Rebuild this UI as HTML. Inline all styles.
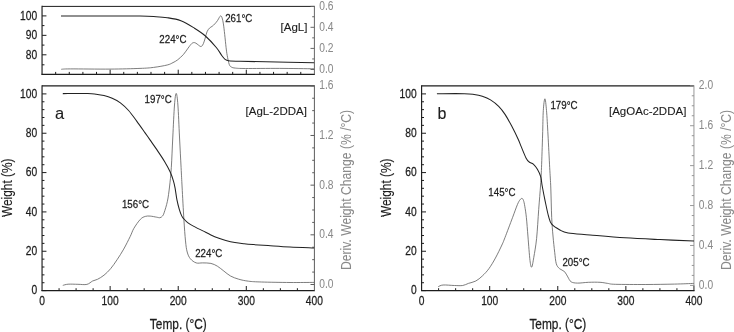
<!DOCTYPE html>
<html><head><meta charset="utf-8"><style>
html,body{margin:0;padding:0;background:#fff;}
svg{display:block;filter:grayscale(1);font-family:"Liberation Sans",sans-serif;}
</style></head><body>
<svg width="734" height="332" viewBox="0 0 734 332">
<rect width="734" height="332" fill="#fff"/>
<line x1="42.05" y1="6.40" x2="314.40" y2="6.40" stroke="#1c1c1c" stroke-width="1.00"/>
<line x1="41.47" y1="74.30" x2="314.90" y2="74.30" stroke="#1c1c1c" stroke-width="1.15"/>
<line x1="42.05" y1="5.70" x2="42.05" y2="74.80" stroke="#1c1c1c" stroke-width="1.15"/>
<line x1="314.40" y1="5.90" x2="314.40" y2="74.30" stroke="#666" stroke-width="1.00"/>
<line x1="55.67" y1="74.30" x2="55.67" y2="71.90" stroke="#1c1c1c" stroke-width="1.00"/>
<line x1="69.28" y1="74.30" x2="69.28" y2="71.90" stroke="#1c1c1c" stroke-width="1.00"/>
<line x1="82.90" y1="74.30" x2="82.90" y2="71.90" stroke="#1c1c1c" stroke-width="1.00"/>
<line x1="96.52" y1="74.30" x2="96.52" y2="71.90" stroke="#1c1c1c" stroke-width="1.00"/>
<line x1="110.14" y1="74.30" x2="110.14" y2="69.70" stroke="#1c1c1c" stroke-width="1.00"/>
<line x1="123.75" y1="74.30" x2="123.75" y2="71.90" stroke="#1c1c1c" stroke-width="1.00"/>
<line x1="137.37" y1="74.30" x2="137.37" y2="71.90" stroke="#1c1c1c" stroke-width="1.00"/>
<line x1="150.99" y1="74.30" x2="150.99" y2="71.90" stroke="#1c1c1c" stroke-width="1.00"/>
<line x1="164.61" y1="74.30" x2="164.61" y2="71.90" stroke="#1c1c1c" stroke-width="1.00"/>
<line x1="178.22" y1="74.30" x2="178.22" y2="69.70" stroke="#1c1c1c" stroke-width="1.00"/>
<line x1="191.84" y1="74.30" x2="191.84" y2="71.90" stroke="#1c1c1c" stroke-width="1.00"/>
<line x1="205.46" y1="74.30" x2="205.46" y2="71.90" stroke="#1c1c1c" stroke-width="1.00"/>
<line x1="219.08" y1="74.30" x2="219.08" y2="71.90" stroke="#1c1c1c" stroke-width="1.00"/>
<line x1="232.69" y1="74.30" x2="232.69" y2="71.90" stroke="#1c1c1c" stroke-width="1.00"/>
<line x1="246.31" y1="74.30" x2="246.31" y2="69.70" stroke="#1c1c1c" stroke-width="1.00"/>
<line x1="259.93" y1="74.30" x2="259.93" y2="71.90" stroke="#1c1c1c" stroke-width="1.00"/>
<line x1="273.55" y1="74.30" x2="273.55" y2="71.90" stroke="#1c1c1c" stroke-width="1.00"/>
<line x1="287.16" y1="74.30" x2="287.16" y2="71.90" stroke="#1c1c1c" stroke-width="1.00"/>
<line x1="300.78" y1="74.30" x2="300.78" y2="71.90" stroke="#1c1c1c" stroke-width="1.00"/>
<line x1="42.05" y1="15.90" x2="46.45" y2="15.90" stroke="#1c1c1c" stroke-width="1.00"/>
<text transform="translate(37.15 20.00) scale(0.820 1)" font-size="12.50" text-anchor="end" fill="#1c1c1c" stroke="#1c1c1c" stroke-width="0.25">100</text>
<line x1="42.05" y1="35.35" x2="46.45" y2="35.35" stroke="#1c1c1c" stroke-width="1.00"/>
<text transform="translate(37.15 39.45) scale(0.820 1)" font-size="12.50" text-anchor="end" fill="#1c1c1c" stroke="#1c1c1c" stroke-width="0.25">90</text>
<line x1="42.05" y1="54.80" x2="46.45" y2="54.80" stroke="#1c1c1c" stroke-width="1.00"/>
<text transform="translate(37.15 58.90) scale(0.820 1)" font-size="12.50" text-anchor="end" fill="#1c1c1c" stroke="#1c1c1c" stroke-width="0.25">80</text>
<line x1="42.05" y1="25.60" x2="44.45" y2="25.60" stroke="#1c1c1c" stroke-width="1.00"/>
<line x1="42.05" y1="45.10" x2="44.45" y2="45.10" stroke="#1c1c1c" stroke-width="1.00"/>
<line x1="42.05" y1="64.80" x2="44.45" y2="64.80" stroke="#1c1c1c" stroke-width="1.00"/>
<line x1="314.40" y1="6.40" x2="310.50" y2="6.40" stroke="#666" stroke-width="1.00"/>
<text transform="translate(319.30 9.90) scale(0.800 1)" font-size="12.80" text-anchor="start" fill="#8a8a8a" stroke="#8a8a8a" stroke-width="0.04">0.6</text>
<line x1="314.40" y1="27.30" x2="310.50" y2="27.30" stroke="#666" stroke-width="1.00"/>
<text transform="translate(319.30 30.80) scale(0.800 1)" font-size="12.80" text-anchor="start" fill="#8a8a8a" stroke="#8a8a8a" stroke-width="0.04">0.4</text>
<line x1="314.40" y1="48.40" x2="310.50" y2="48.40" stroke="#666" stroke-width="1.00"/>
<text transform="translate(319.30 51.90) scale(0.800 1)" font-size="12.80" text-anchor="start" fill="#8a8a8a" stroke="#8a8a8a" stroke-width="0.04">0.2</text>
<line x1="314.40" y1="69.50" x2="310.50" y2="69.50" stroke="#666" stroke-width="1.00"/>
<text transform="translate(319.30 73.00) scale(0.800 1)" font-size="12.80" text-anchor="start" fill="#8a8a8a" stroke="#8a8a8a" stroke-width="0.04">0.0</text>
<line x1="314.40" y1="16.75" x2="312.20" y2="16.75" stroke="#666" stroke-width="1.00"/>
<line x1="314.40" y1="37.85" x2="312.20" y2="37.85" stroke="#666" stroke-width="1.00"/>
<line x1="314.40" y1="58.95" x2="312.20" y2="58.95" stroke="#666" stroke-width="1.00"/>
<path d="M61.20 69.30C62.73 69.23 62.27 68.93 70.40 68.90C78.53 68.87 98.40 69.18 110.00 69.10C121.60 69.02 132.73 68.68 140.00 68.40C147.27 68.12 149.07 67.97 153.60 67.40C158.13 66.83 163.97 65.80 167.20 65.00C170.43 64.20 171.25 63.47 173.00 62.60C174.75 61.73 175.95 61.17 177.70 59.80C179.45 58.43 181.77 56.35 183.50 54.40C185.23 52.45 186.73 49.90 188.10 48.10C189.47 46.30 190.65 44.52 191.70 43.60C192.75 42.68 193.50 42.53 194.40 42.60C195.30 42.67 196.20 43.42 197.10 44.00C198.00 44.58 199.05 45.72 199.80 46.10C200.55 46.48 201.00 46.72 201.60 46.30C202.20 45.88 202.80 44.97 203.40 43.60C204.00 42.23 204.60 40.07 205.20 38.10C205.80 36.13 206.28 33.47 207.00 31.80C207.72 30.13 208.63 29.02 209.50 28.10C210.37 27.18 211.32 27.00 212.20 26.30C213.08 25.60 213.92 24.85 214.80 23.90C215.68 22.95 216.73 21.70 217.50 20.60C218.27 19.50 218.85 18.10 219.40 17.30C219.95 16.50 220.35 15.70 220.80 15.80C221.25 15.90 221.67 16.55 222.10 17.90C222.53 19.25 222.97 21.13 223.40 23.90C223.83 26.67 224.25 30.53 224.70 34.50C225.15 38.47 225.68 44.22 226.10 47.70C226.52 51.18 226.68 52.63 227.20 55.40C227.72 58.17 228.52 62.37 229.20 64.30C229.88 66.23 230.27 66.37 231.30 67.00C232.33 67.63 233.05 67.85 235.40 68.10C237.75 68.35 238.05 68.45 245.40 68.50C252.75 68.55 268.07 68.35 279.50 68.40C290.93 68.45 308.25 68.73 314.00 68.80" fill="none" stroke="#5c5c5c" stroke-width="0.80" stroke-linejoin="round" stroke-linecap="butt"/>
<path d="M61.00 16.00C67.50 16.00 89.33 16.00 100.00 16.00C110.67 16.00 118.33 15.98 125.00 16.00C131.67 16.02 135.23 16.00 140.00 16.10C144.77 16.20 149.07 16.33 153.60 16.60C158.13 16.87 162.65 17.02 167.20 17.70C171.75 18.38 176.35 18.95 180.90 20.70C185.45 22.45 190.42 25.65 194.50 28.20C198.58 30.75 201.77 32.78 205.40 36.00C209.03 39.22 213.58 44.27 216.30 47.50C219.02 50.73 220.23 53.43 221.70 55.40C223.17 57.37 223.95 58.42 225.10 59.30C226.25 60.18 226.12 60.37 228.60 60.70C231.08 61.03 233.78 61.12 240.00 61.30C246.22 61.48 253.53 61.55 265.90 61.80C278.27 62.05 306.15 62.63 314.20 62.80" fill="none" stroke="#222" stroke-width="1.05" stroke-linejoin="round" stroke-linecap="butt"/>
<text transform="translate(159.30 42.90) scale(0.840 1)" font-size="11.60" text-anchor="start" fill="#1c1c1c" stroke="#1c1c1c" stroke-width="0.25">224°C</text>
<text transform="translate(225.20 21.50) scale(0.840 1)" font-size="11.60" text-anchor="start" fill="#1c1c1c" stroke="#1c1c1c" stroke-width="0.25">261°C</text>
<text transform="translate(280.60 30.60)" font-size="11.50" text-anchor="start" fill="#1c1c1c" stroke="#1c1c1c" stroke-width="0.10">[AgL]</text>
<line x1="42.05" y1="85.80" x2="314.40" y2="85.80" stroke="#1c1c1c" stroke-width="1.30"/>
<line x1="41.47" y1="290.60" x2="314.90" y2="290.60" stroke="#1c1c1c" stroke-width="1.15"/>
<line x1="42.05" y1="85.30" x2="42.05" y2="291.10" stroke="#1c1c1c" stroke-width="1.15"/>
<line x1="314.40" y1="85.30" x2="314.40" y2="290.60" stroke="#5c5c5c" stroke-width="1.00"/>
<line x1="59.07" y1="290.60" x2="59.07" y2="288.20" stroke="#1c1c1c" stroke-width="1.00"/>
<line x1="76.09" y1="290.60" x2="76.09" y2="288.20" stroke="#1c1c1c" stroke-width="1.00"/>
<line x1="93.12" y1="290.60" x2="93.12" y2="288.20" stroke="#1c1c1c" stroke-width="1.00"/>
<line x1="110.14" y1="290.60" x2="110.14" y2="286.00" stroke="#1c1c1c" stroke-width="1.00"/>
<line x1="127.16" y1="290.60" x2="127.16" y2="288.20" stroke="#1c1c1c" stroke-width="1.00"/>
<line x1="144.18" y1="290.60" x2="144.18" y2="288.20" stroke="#1c1c1c" stroke-width="1.00"/>
<line x1="161.20" y1="290.60" x2="161.20" y2="288.20" stroke="#1c1c1c" stroke-width="1.00"/>
<line x1="178.22" y1="290.60" x2="178.22" y2="286.00" stroke="#1c1c1c" stroke-width="1.00"/>
<line x1="195.25" y1="290.60" x2="195.25" y2="288.20" stroke="#1c1c1c" stroke-width="1.00"/>
<line x1="212.27" y1="290.60" x2="212.27" y2="288.20" stroke="#1c1c1c" stroke-width="1.00"/>
<line x1="229.29" y1="290.60" x2="229.29" y2="288.20" stroke="#1c1c1c" stroke-width="1.00"/>
<line x1="246.31" y1="290.60" x2="246.31" y2="286.00" stroke="#1c1c1c" stroke-width="1.00"/>
<line x1="263.33" y1="290.60" x2="263.33" y2="288.20" stroke="#1c1c1c" stroke-width="1.00"/>
<line x1="280.36" y1="290.60" x2="280.36" y2="288.20" stroke="#1c1c1c" stroke-width="1.00"/>
<line x1="297.38" y1="290.60" x2="297.38" y2="288.20" stroke="#1c1c1c" stroke-width="1.00"/>
<text transform="translate(42.05 304.90) scale(0.820 1)" font-size="12.50" text-anchor="middle" fill="#1c1c1c" stroke="#1c1c1c" stroke-width="0.25">0</text>
<text transform="translate(110.14 304.90) scale(0.820 1)" font-size="12.50" text-anchor="middle" fill="#1c1c1c" stroke="#1c1c1c" stroke-width="0.25">100</text>
<text transform="translate(178.22 304.90) scale(0.820 1)" font-size="12.50" text-anchor="middle" fill="#1c1c1c" stroke="#1c1c1c" stroke-width="0.25">200</text>
<text transform="translate(246.31 304.90) scale(0.820 1)" font-size="12.50" text-anchor="middle" fill="#1c1c1c" stroke="#1c1c1c" stroke-width="0.25">300</text>
<text transform="translate(314.40 304.90) scale(0.820 1)" font-size="12.50" text-anchor="middle" fill="#1c1c1c" stroke="#1c1c1c" stroke-width="0.25">400</text>
<line x1="42.05" y1="93.90" x2="46.45" y2="93.90" stroke="#1c1c1c" stroke-width="1.00"/>
<text transform="translate(37.15 97.50) scale(0.820 1)" font-size="12.50" text-anchor="end" fill="#1c1c1c" stroke="#1c1c1c" stroke-width="0.25">100</text>
<line x1="42.05" y1="133.24" x2="46.45" y2="133.24" stroke="#1c1c1c" stroke-width="1.00"/>
<text transform="translate(37.15 136.84) scale(0.820 1)" font-size="12.50" text-anchor="end" fill="#1c1c1c" stroke="#1c1c1c" stroke-width="0.25">80</text>
<line x1="42.05" y1="172.58" x2="46.45" y2="172.58" stroke="#1c1c1c" stroke-width="1.00"/>
<text transform="translate(37.15 176.18) scale(0.820 1)" font-size="12.50" text-anchor="end" fill="#1c1c1c" stroke="#1c1c1c" stroke-width="0.25">60</text>
<line x1="42.05" y1="211.92" x2="46.45" y2="211.92" stroke="#1c1c1c" stroke-width="1.00"/>
<text transform="translate(37.15 215.52) scale(0.820 1)" font-size="12.50" text-anchor="end" fill="#1c1c1c" stroke="#1c1c1c" stroke-width="0.25">40</text>
<line x1="42.05" y1="251.26" x2="46.45" y2="251.26" stroke="#1c1c1c" stroke-width="1.00"/>
<text transform="translate(37.15 254.86) scale(0.820 1)" font-size="12.50" text-anchor="end" fill="#1c1c1c" stroke="#1c1c1c" stroke-width="0.25">20</text>
<line x1="42.05" y1="290.60" x2="46.45" y2="290.60" stroke="#1c1c1c" stroke-width="1.00"/>
<text transform="translate(37.15 294.20) scale(0.820 1)" font-size="12.50" text-anchor="end" fill="#1c1c1c" stroke="#1c1c1c" stroke-width="0.25">0</text>
<line x1="42.05" y1="282.73" x2="44.45" y2="282.73" stroke="#1c1c1c" stroke-width="1.00"/>
<line x1="42.05" y1="274.86" x2="44.45" y2="274.86" stroke="#1c1c1c" stroke-width="1.00"/>
<line x1="42.05" y1="267.00" x2="44.45" y2="267.00" stroke="#1c1c1c" stroke-width="1.00"/>
<line x1="42.05" y1="259.13" x2="44.45" y2="259.13" stroke="#1c1c1c" stroke-width="1.00"/>
<line x1="42.05" y1="243.39" x2="44.45" y2="243.39" stroke="#1c1c1c" stroke-width="1.00"/>
<line x1="42.05" y1="235.52" x2="44.45" y2="235.52" stroke="#1c1c1c" stroke-width="1.00"/>
<line x1="42.05" y1="227.66" x2="44.45" y2="227.66" stroke="#1c1c1c" stroke-width="1.00"/>
<line x1="42.05" y1="219.79" x2="44.45" y2="219.79" stroke="#1c1c1c" stroke-width="1.00"/>
<line x1="42.05" y1="204.05" x2="44.45" y2="204.05" stroke="#1c1c1c" stroke-width="1.00"/>
<line x1="42.05" y1="196.18" x2="44.45" y2="196.18" stroke="#1c1c1c" stroke-width="1.00"/>
<line x1="42.05" y1="188.32" x2="44.45" y2="188.32" stroke="#1c1c1c" stroke-width="1.00"/>
<line x1="42.05" y1="180.45" x2="44.45" y2="180.45" stroke="#1c1c1c" stroke-width="1.00"/>
<line x1="42.05" y1="164.71" x2="44.45" y2="164.71" stroke="#1c1c1c" stroke-width="1.00"/>
<line x1="42.05" y1="156.84" x2="44.45" y2="156.84" stroke="#1c1c1c" stroke-width="1.00"/>
<line x1="42.05" y1="148.98" x2="44.45" y2="148.98" stroke="#1c1c1c" stroke-width="1.00"/>
<line x1="42.05" y1="141.11" x2="44.45" y2="141.11" stroke="#1c1c1c" stroke-width="1.00"/>
<line x1="42.05" y1="125.37" x2="44.45" y2="125.37" stroke="#1c1c1c" stroke-width="1.00"/>
<line x1="42.05" y1="117.50" x2="44.45" y2="117.50" stroke="#1c1c1c" stroke-width="1.00"/>
<line x1="42.05" y1="109.64" x2="44.45" y2="109.64" stroke="#1c1c1c" stroke-width="1.00"/>
<line x1="42.05" y1="101.77" x2="44.45" y2="101.77" stroke="#1c1c1c" stroke-width="1.00"/>
<line x1="314.40" y1="85.80" x2="310.50" y2="85.80" stroke="#5c5c5c" stroke-width="1.00"/>
<text transform="translate(319.30 89.30) scale(0.800 1)" font-size="12.80" text-anchor="start" fill="#8a8a8a" stroke="#8a8a8a" stroke-width="0.04">1.6</text>
<line x1="314.40" y1="135.47" x2="310.50" y2="135.47" stroke="#5c5c5c" stroke-width="1.00"/>
<text transform="translate(319.30 138.97) scale(0.800 1)" font-size="12.80" text-anchor="start" fill="#8a8a8a" stroke="#8a8a8a" stroke-width="0.04">1.2</text>
<line x1="314.40" y1="185.15" x2="310.50" y2="185.15" stroke="#5c5c5c" stroke-width="1.00"/>
<text transform="translate(319.30 188.65) scale(0.800 1)" font-size="12.80" text-anchor="start" fill="#8a8a8a" stroke="#8a8a8a" stroke-width="0.04">0.8</text>
<line x1="314.40" y1="234.82" x2="310.50" y2="234.82" stroke="#5c5c5c" stroke-width="1.00"/>
<text transform="translate(319.30 238.32) scale(0.800 1)" font-size="12.80" text-anchor="start" fill="#8a8a8a" stroke="#8a8a8a" stroke-width="0.04">0.4</text>
<line x1="314.40" y1="284.50" x2="310.50" y2="284.50" stroke="#5c5c5c" stroke-width="1.00"/>
<text transform="translate(319.30 288.00) scale(0.800 1)" font-size="12.80" text-anchor="start" fill="#8a8a8a" stroke="#8a8a8a" stroke-width="0.04">0.0</text>
<line x1="314.40" y1="98.22" x2="312.20" y2="98.22" stroke="#5c5c5c" stroke-width="1.00"/>
<line x1="314.40" y1="110.64" x2="312.20" y2="110.64" stroke="#5c5c5c" stroke-width="1.00"/>
<line x1="314.40" y1="123.06" x2="312.20" y2="123.06" stroke="#5c5c5c" stroke-width="1.00"/>
<line x1="314.40" y1="147.89" x2="312.20" y2="147.89" stroke="#5c5c5c" stroke-width="1.00"/>
<line x1="314.40" y1="160.31" x2="312.20" y2="160.31" stroke="#5c5c5c" stroke-width="1.00"/>
<line x1="314.40" y1="172.73" x2="312.20" y2="172.73" stroke="#5c5c5c" stroke-width="1.00"/>
<line x1="314.40" y1="197.57" x2="312.20" y2="197.57" stroke="#5c5c5c" stroke-width="1.00"/>
<line x1="314.40" y1="209.99" x2="312.20" y2="209.99" stroke="#5c5c5c" stroke-width="1.00"/>
<line x1="314.40" y1="222.41" x2="312.20" y2="222.41" stroke="#5c5c5c" stroke-width="1.00"/>
<line x1="314.40" y1="247.24" x2="312.20" y2="247.24" stroke="#5c5c5c" stroke-width="1.00"/>
<line x1="314.40" y1="259.66" x2="312.20" y2="259.66" stroke="#5c5c5c" stroke-width="1.00"/>
<line x1="314.40" y1="272.08" x2="312.20" y2="272.08" stroke="#5c5c5c" stroke-width="1.00"/>
<line x1="421.60" y1="85.80" x2="693.95" y2="85.80" stroke="#1c1c1c" stroke-width="1.30"/>
<line x1="421.03" y1="290.60" x2="694.45" y2="290.60" stroke="#1c1c1c" stroke-width="1.15"/>
<line x1="421.60" y1="85.30" x2="421.60" y2="291.10" stroke="#1c1c1c" stroke-width="1.15"/>
<line x1="693.95" y1="285.40" x2="693.95" y2="291.10" stroke="#1c1c1c" stroke-width="1.00"/>
<line x1="693.95" y1="85.30" x2="693.95" y2="285.40" stroke="#8c8c8c" stroke-width="0.90"/>
<line x1="438.62" y1="290.60" x2="438.62" y2="288.20" stroke="#1c1c1c" stroke-width="1.00"/>
<line x1="455.64" y1="290.60" x2="455.64" y2="288.20" stroke="#1c1c1c" stroke-width="1.00"/>
<line x1="472.67" y1="290.60" x2="472.67" y2="288.20" stroke="#1c1c1c" stroke-width="1.00"/>
<line x1="489.69" y1="290.60" x2="489.69" y2="286.00" stroke="#1c1c1c" stroke-width="1.00"/>
<line x1="506.71" y1="290.60" x2="506.71" y2="288.20" stroke="#1c1c1c" stroke-width="1.00"/>
<line x1="523.73" y1="290.60" x2="523.73" y2="288.20" stroke="#1c1c1c" stroke-width="1.00"/>
<line x1="540.75" y1="290.60" x2="540.75" y2="288.20" stroke="#1c1c1c" stroke-width="1.00"/>
<line x1="557.78" y1="290.60" x2="557.78" y2="286.00" stroke="#1c1c1c" stroke-width="1.00"/>
<line x1="574.80" y1="290.60" x2="574.80" y2="288.20" stroke="#1c1c1c" stroke-width="1.00"/>
<line x1="591.82" y1="290.60" x2="591.82" y2="288.20" stroke="#1c1c1c" stroke-width="1.00"/>
<line x1="608.84" y1="290.60" x2="608.84" y2="288.20" stroke="#1c1c1c" stroke-width="1.00"/>
<line x1="625.86" y1="290.60" x2="625.86" y2="286.00" stroke="#1c1c1c" stroke-width="1.00"/>
<line x1="642.88" y1="290.60" x2="642.88" y2="288.20" stroke="#1c1c1c" stroke-width="1.00"/>
<line x1="659.91" y1="290.60" x2="659.91" y2="288.20" stroke="#1c1c1c" stroke-width="1.00"/>
<line x1="676.93" y1="290.60" x2="676.93" y2="288.20" stroke="#1c1c1c" stroke-width="1.00"/>
<text transform="translate(421.60 304.90) scale(0.820 1)" font-size="12.50" text-anchor="middle" fill="#1c1c1c" stroke="#1c1c1c" stroke-width="0.25">0</text>
<text transform="translate(489.69 304.90) scale(0.820 1)" font-size="12.50" text-anchor="middle" fill="#1c1c1c" stroke="#1c1c1c" stroke-width="0.25">100</text>
<text transform="translate(557.78 304.90) scale(0.820 1)" font-size="12.50" text-anchor="middle" fill="#1c1c1c" stroke="#1c1c1c" stroke-width="0.25">200</text>
<text transform="translate(625.86 304.90) scale(0.820 1)" font-size="12.50" text-anchor="middle" fill="#1c1c1c" stroke="#1c1c1c" stroke-width="0.25">300</text>
<text transform="translate(693.95 304.90) scale(0.820 1)" font-size="12.50" text-anchor="middle" fill="#1c1c1c" stroke="#1c1c1c" stroke-width="0.25">400</text>
<line x1="421.60" y1="93.90" x2="426.00" y2="93.90" stroke="#1c1c1c" stroke-width="1.00"/>
<text transform="translate(416.70 97.50) scale(0.820 1)" font-size="12.50" text-anchor="end" fill="#1c1c1c" stroke="#1c1c1c" stroke-width="0.25">100</text>
<line x1="421.60" y1="133.24" x2="426.00" y2="133.24" stroke="#1c1c1c" stroke-width="1.00"/>
<text transform="translate(416.70 136.84) scale(0.820 1)" font-size="12.50" text-anchor="end" fill="#1c1c1c" stroke="#1c1c1c" stroke-width="0.25">80</text>
<line x1="421.60" y1="172.58" x2="426.00" y2="172.58" stroke="#1c1c1c" stroke-width="1.00"/>
<text transform="translate(416.70 176.18) scale(0.820 1)" font-size="12.50" text-anchor="end" fill="#1c1c1c" stroke="#1c1c1c" stroke-width="0.25">60</text>
<line x1="421.60" y1="211.92" x2="426.00" y2="211.92" stroke="#1c1c1c" stroke-width="1.00"/>
<text transform="translate(416.70 215.52) scale(0.820 1)" font-size="12.50" text-anchor="end" fill="#1c1c1c" stroke="#1c1c1c" stroke-width="0.25">40</text>
<line x1="421.60" y1="251.26" x2="426.00" y2="251.26" stroke="#1c1c1c" stroke-width="1.00"/>
<text transform="translate(416.70 254.86) scale(0.820 1)" font-size="12.50" text-anchor="end" fill="#1c1c1c" stroke="#1c1c1c" stroke-width="0.25">20</text>
<line x1="421.60" y1="290.60" x2="426.00" y2="290.60" stroke="#1c1c1c" stroke-width="1.00"/>
<text transform="translate(416.70 294.20) scale(0.820 1)" font-size="12.50" text-anchor="end" fill="#1c1c1c" stroke="#1c1c1c" stroke-width="0.25">0</text>
<line x1="421.60" y1="282.73" x2="424.00" y2="282.73" stroke="#1c1c1c" stroke-width="1.00"/>
<line x1="421.60" y1="274.86" x2="424.00" y2="274.86" stroke="#1c1c1c" stroke-width="1.00"/>
<line x1="421.60" y1="267.00" x2="424.00" y2="267.00" stroke="#1c1c1c" stroke-width="1.00"/>
<line x1="421.60" y1="259.13" x2="424.00" y2="259.13" stroke="#1c1c1c" stroke-width="1.00"/>
<line x1="421.60" y1="243.39" x2="424.00" y2="243.39" stroke="#1c1c1c" stroke-width="1.00"/>
<line x1="421.60" y1="235.52" x2="424.00" y2="235.52" stroke="#1c1c1c" stroke-width="1.00"/>
<line x1="421.60" y1="227.66" x2="424.00" y2="227.66" stroke="#1c1c1c" stroke-width="1.00"/>
<line x1="421.60" y1="219.79" x2="424.00" y2="219.79" stroke="#1c1c1c" stroke-width="1.00"/>
<line x1="421.60" y1="204.05" x2="424.00" y2="204.05" stroke="#1c1c1c" stroke-width="1.00"/>
<line x1="421.60" y1="196.18" x2="424.00" y2="196.18" stroke="#1c1c1c" stroke-width="1.00"/>
<line x1="421.60" y1="188.32" x2="424.00" y2="188.32" stroke="#1c1c1c" stroke-width="1.00"/>
<line x1="421.60" y1="180.45" x2="424.00" y2="180.45" stroke="#1c1c1c" stroke-width="1.00"/>
<line x1="421.60" y1="164.71" x2="424.00" y2="164.71" stroke="#1c1c1c" stroke-width="1.00"/>
<line x1="421.60" y1="156.84" x2="424.00" y2="156.84" stroke="#1c1c1c" stroke-width="1.00"/>
<line x1="421.60" y1="148.98" x2="424.00" y2="148.98" stroke="#1c1c1c" stroke-width="1.00"/>
<line x1="421.60" y1="141.11" x2="424.00" y2="141.11" stroke="#1c1c1c" stroke-width="1.00"/>
<line x1="421.60" y1="125.37" x2="424.00" y2="125.37" stroke="#1c1c1c" stroke-width="1.00"/>
<line x1="421.60" y1="117.50" x2="424.00" y2="117.50" stroke="#1c1c1c" stroke-width="1.00"/>
<line x1="421.60" y1="109.64" x2="424.00" y2="109.64" stroke="#1c1c1c" stroke-width="1.00"/>
<line x1="421.60" y1="101.77" x2="424.00" y2="101.77" stroke="#1c1c1c" stroke-width="1.00"/>
<line x1="693.95" y1="85.80" x2="690.05" y2="85.80" stroke="#8c8c8c" stroke-width="0.90"/>
<text transform="translate(698.85 89.30) scale(0.800 1)" font-size="12.80" text-anchor="start" fill="#8a8a8a" stroke="#8a8a8a" stroke-width="0.04">2.0</text>
<line x1="693.95" y1="125.72" x2="690.05" y2="125.72" stroke="#8c8c8c" stroke-width="0.90"/>
<text transform="translate(698.85 129.22) scale(0.800 1)" font-size="12.80" text-anchor="start" fill="#8a8a8a" stroke="#8a8a8a" stroke-width="0.04">1.6</text>
<line x1="693.95" y1="165.64" x2="690.05" y2="165.64" stroke="#8c8c8c" stroke-width="0.90"/>
<text transform="translate(698.85 169.14) scale(0.800 1)" font-size="12.80" text-anchor="start" fill="#8a8a8a" stroke="#8a8a8a" stroke-width="0.04">1.2</text>
<line x1="693.95" y1="205.56" x2="690.05" y2="205.56" stroke="#8c8c8c" stroke-width="0.90"/>
<text transform="translate(698.85 209.06) scale(0.800 1)" font-size="12.80" text-anchor="start" fill="#8a8a8a" stroke="#8a8a8a" stroke-width="0.04">0.8</text>
<line x1="693.95" y1="245.48" x2="690.05" y2="245.48" stroke="#8c8c8c" stroke-width="0.90"/>
<text transform="translate(698.85 248.98) scale(0.800 1)" font-size="12.80" text-anchor="start" fill="#8a8a8a" stroke="#8a8a8a" stroke-width="0.04">0.4</text>
<line x1="693.95" y1="285.40" x2="690.05" y2="285.40" stroke="#8c8c8c" stroke-width="0.90"/>
<text transform="translate(698.85 288.90) scale(0.800 1)" font-size="12.80" text-anchor="start" fill="#8a8a8a" stroke="#8a8a8a" stroke-width="0.04">0.0</text>
<line x1="693.95" y1="95.78" x2="691.75" y2="95.78" stroke="#8c8c8c" stroke-width="0.90"/>
<line x1="693.95" y1="105.76" x2="691.75" y2="105.76" stroke="#8c8c8c" stroke-width="0.90"/>
<line x1="693.95" y1="115.74" x2="691.75" y2="115.74" stroke="#8c8c8c" stroke-width="0.90"/>
<line x1="693.95" y1="135.70" x2="691.75" y2="135.70" stroke="#8c8c8c" stroke-width="0.90"/>
<line x1="693.95" y1="145.68" x2="691.75" y2="145.68" stroke="#8c8c8c" stroke-width="0.90"/>
<line x1="693.95" y1="155.66" x2="691.75" y2="155.66" stroke="#8c8c8c" stroke-width="0.90"/>
<line x1="693.95" y1="175.62" x2="691.75" y2="175.62" stroke="#8c8c8c" stroke-width="0.90"/>
<line x1="693.95" y1="185.60" x2="691.75" y2="185.60" stroke="#8c8c8c" stroke-width="0.90"/>
<line x1="693.95" y1="195.58" x2="691.75" y2="195.58" stroke="#8c8c8c" stroke-width="0.90"/>
<line x1="693.95" y1="215.54" x2="691.75" y2="215.54" stroke="#8c8c8c" stroke-width="0.90"/>
<line x1="693.95" y1="225.52" x2="691.75" y2="225.52" stroke="#8c8c8c" stroke-width="0.90"/>
<line x1="693.95" y1="235.50" x2="691.75" y2="235.50" stroke="#8c8c8c" stroke-width="0.90"/>
<line x1="693.95" y1="255.46" x2="691.75" y2="255.46" stroke="#8c8c8c" stroke-width="0.90"/>
<line x1="693.95" y1="265.44" x2="691.75" y2="265.44" stroke="#8c8c8c" stroke-width="0.90"/>
<line x1="693.95" y1="275.42" x2="691.75" y2="275.42" stroke="#8c8c8c" stroke-width="0.90"/>
<path d="M62.80 285.40C63.68 285.20 65.58 284.38 68.10 284.20C70.62 284.02 74.77 284.27 77.90 284.30C81.03 284.33 84.45 284.95 86.90 284.40C89.35 283.85 90.83 281.85 92.60 281.00C94.37 280.15 95.60 280.27 97.50 279.30C99.40 278.33 101.82 276.97 104.00 275.20C106.18 273.43 108.42 271.28 110.60 268.70C112.78 266.12 114.92 262.97 117.10 259.70C119.28 256.43 121.52 252.97 123.70 249.10C125.88 245.23 128.50 239.97 130.20 236.50C131.90 233.03 132.20 231.17 133.90 228.30C135.60 225.43 138.50 221.28 140.40 219.30C142.30 217.32 143.67 216.93 145.30 216.40C146.93 215.87 148.30 215.97 150.20 216.10C152.10 216.23 155.07 216.93 156.70 217.20C158.33 217.47 159.03 217.90 160.00 217.70C160.97 217.50 161.82 216.82 162.50 216.00C163.18 215.18 163.28 215.25 164.10 212.80C164.92 210.35 166.50 205.60 167.40 201.30C168.30 197.00 168.85 192.60 169.50 187.00C170.15 181.40 170.75 176.03 171.30 167.70C171.85 159.37 172.27 147.45 172.80 137.00C173.33 126.55 173.93 112.27 174.50 105.00C175.07 97.73 175.63 93.40 176.20 93.40C176.77 93.40 177.35 97.73 177.90 105.00C178.45 112.27 178.97 126.55 179.50 137.00C180.03 147.45 180.67 159.37 181.10 167.70C181.53 176.03 181.63 178.35 182.10 187.00C182.57 195.65 183.33 210.62 183.90 219.60C184.47 228.58 184.95 235.50 185.50 240.90C186.05 246.30 186.38 249.02 187.20 252.00C188.02 254.98 188.90 256.98 190.40 258.80C191.90 260.62 194.15 262.22 196.20 262.90C198.25 263.58 200.25 262.82 202.70 262.90C205.15 262.98 208.45 262.85 210.90 263.40C213.35 263.95 215.23 264.92 217.40 266.20C219.57 267.48 221.72 269.47 223.90 271.10C226.08 272.73 228.03 274.65 230.50 276.00C232.97 277.35 235.70 278.33 238.70 279.20C241.70 280.07 244.70 280.73 248.50 281.20C252.30 281.67 254.58 281.78 261.50 282.00C268.42 282.22 281.25 282.43 290.00 282.50C298.75 282.57 310.00 282.42 314.00 282.40" fill="none" stroke="#5c5c5c" stroke-width="0.80" stroke-linejoin="round" stroke-linecap="butt"/>
<path d="M62.80 93.60C66.95 93.60 82.17 93.50 87.70 93.60C93.23 93.70 93.28 93.88 96.00 94.20C98.72 94.52 101.30 94.82 104.00 95.50C106.70 96.18 109.47 97.08 112.20 98.30C114.93 99.52 117.67 100.77 120.40 102.80C123.13 104.83 125.88 107.45 128.60 110.50C131.32 113.55 133.98 117.42 136.70 121.10C139.42 124.78 142.72 129.52 144.90 132.60C147.08 135.68 147.90 136.88 149.80 139.60C151.70 142.32 153.87 145.30 156.30 148.90C158.73 152.50 162.10 157.38 164.40 161.20C166.70 165.02 168.60 168.53 170.10 171.80C171.60 175.07 172.57 178.08 173.40 180.80C174.23 183.52 174.52 184.97 175.10 188.10C175.68 191.23 176.20 196.07 176.90 199.60C177.60 203.13 178.50 206.58 179.30 209.30C180.10 212.02 180.98 214.35 181.70 215.90C182.42 217.45 182.55 217.43 183.60 218.60C184.65 219.77 186.12 221.52 188.00 222.90C189.88 224.28 192.42 225.57 194.90 226.90C197.38 228.23 200.23 229.57 202.90 230.90C205.57 232.23 208.23 233.68 210.90 234.90C213.57 236.12 216.42 237.27 218.90 238.20C221.38 239.13 223.13 239.77 225.80 240.50C228.47 241.23 231.85 242.05 234.90 242.60C237.95 243.15 241.05 243.47 244.10 243.80C247.15 244.13 249.20 244.30 253.20 244.60C257.20 244.90 261.97 245.20 268.10 245.60C274.23 246.00 282.35 246.60 290.00 247.00C297.65 247.40 310.00 247.83 314.00 248.00" fill="none" stroke="#222" stroke-width="1.05" stroke-linejoin="round" stroke-linecap="butt"/>
<text transform="translate(144.60 102.80) scale(0.840 1)" font-size="11.60" text-anchor="start" fill="#1c1c1c" stroke="#1c1c1c" stroke-width="0.25">197°C</text>
<text transform="translate(121.90 208.30) scale(0.840 1)" font-size="11.60" text-anchor="start" fill="#1c1c1c" stroke="#1c1c1c" stroke-width="0.25">156°C</text>
<text transform="translate(195.20 256.80) scale(0.840 1)" font-size="11.60" text-anchor="start" fill="#1c1c1c" stroke="#1c1c1c" stroke-width="0.25">224°C</text>
<text transform="translate(245.60 115.20)" font-size="11.50" text-anchor="start" fill="#1c1c1c" stroke="#1c1c1c" stroke-width="0.10">[AgL-2DDA]</text>
<text transform="translate(55.00 119.00)" font-size="16.50" text-anchor="start" fill="#1c1c1c" stroke="#1c1c1c" stroke-width="0.10">a</text>
<path d="M438.20 286.70C439.02 286.42 440.38 285.20 443.10 285.00C445.82 284.80 451.23 285.42 454.50 285.50C457.77 285.58 460.38 285.85 462.70 285.50C465.02 285.15 466.22 284.15 468.40 283.40C470.58 282.65 473.48 282.23 475.80 281.00C478.12 279.77 480.12 278.05 482.30 276.00C484.48 273.95 486.72 271.68 488.90 268.70C491.08 265.72 493.23 262.05 495.40 258.10C497.57 254.15 500.30 248.43 501.90 245.00C503.50 241.57 503.23 242.05 505.00 237.50C506.77 232.95 510.43 223.18 512.50 217.70C514.57 212.22 516.15 207.58 517.40 204.60C518.65 201.62 519.23 200.83 520.00 199.80C520.77 198.77 521.42 198.28 522.00 198.40C522.58 198.52 523.03 199.18 523.50 200.50C523.97 201.82 524.32 203.43 524.80 206.30C525.28 209.17 525.87 212.58 526.40 217.70C526.93 222.82 527.40 229.87 528.00 237.00C528.60 244.13 529.38 255.48 530.00 260.50C530.62 265.52 531.07 267.63 531.70 267.10C532.33 266.57 532.98 262.07 533.80 257.30C534.62 252.53 535.78 246.47 536.60 238.50C537.42 230.53 538.03 218.42 538.70 209.50C539.37 200.58 540.13 191.97 540.60 185.00C541.07 178.03 541.17 176.03 541.50 167.70C541.83 159.37 542.30 144.53 542.60 135.00C542.90 125.47 542.92 116.53 543.30 110.50C543.68 104.47 544.37 98.80 544.90 98.80C545.43 98.80 545.98 104.47 546.50 110.50C547.02 116.53 547.47 125.47 548.00 135.00C548.53 144.53 549.23 158.87 549.70 167.70C550.17 176.53 550.47 179.67 550.80 188.00C551.13 196.33 551.33 209.70 551.70 217.70C552.07 225.70 552.50 230.23 553.00 236.00C553.50 241.77 554.15 247.67 554.70 252.30C555.25 256.93 555.48 261.07 556.30 263.80C557.12 266.53 558.23 267.40 559.60 268.70C560.97 270.00 563.13 270.23 564.50 271.60C565.87 272.97 566.70 275.20 567.80 276.90C568.90 278.60 569.47 280.77 571.10 281.80C572.73 282.83 574.68 283.02 577.60 283.10C580.52 283.18 584.87 282.43 588.60 282.30C592.33 282.17 596.82 282.12 600.00 282.30C603.18 282.48 605.15 283.07 607.70 283.40C610.25 283.73 608.95 284.12 615.30 284.30C621.65 284.48 635.95 284.53 645.80 284.50C655.65 284.47 666.40 284.28 674.40 284.10C682.40 283.92 690.57 283.52 693.80 283.40" fill="none" stroke="#5c5c5c" stroke-width="0.80" stroke-linejoin="round" stroke-linecap="butt"/>
<path d="M436.90 93.70C441.47 93.70 458.10 93.57 464.30 93.70C470.50 93.83 471.10 94.07 474.10 94.50C477.10 94.93 479.57 95.40 482.30 96.30C485.03 97.20 487.77 98.22 490.50 99.90C493.23 101.58 496.25 103.95 498.70 106.40C501.15 108.85 503.03 111.32 505.20 114.60C507.37 117.88 509.52 121.95 511.70 126.10C513.88 130.25 516.73 136.12 518.30 139.50C519.87 142.88 519.82 143.33 521.10 146.40C522.38 149.47 524.65 155.30 526.00 157.90C527.35 160.50 527.98 160.97 529.20 162.00C530.42 163.03 531.93 162.88 533.30 164.10C534.67 165.32 536.17 167.20 537.40 169.30C538.63 171.40 539.90 173.92 540.70 176.70C541.50 179.48 541.45 181.90 542.20 186.00C542.95 190.10 544.15 196.28 545.20 201.30C546.25 206.32 547.42 212.28 548.50 216.10C549.58 219.92 549.80 221.88 551.70 224.20C553.60 226.52 557.17 228.55 559.90 230.00C562.63 231.45 563.08 232.08 568.10 232.90C573.12 233.72 580.52 234.08 590.00 234.90C599.48 235.72 613.33 237.02 625.00 237.80C636.67 238.58 648.50 239.07 660.00 239.60C671.50 240.13 688.33 240.77 694.00 241.00" fill="none" stroke="#222" stroke-width="1.05" stroke-linejoin="round" stroke-linecap="butt"/>
<text transform="translate(550.40 109.20) scale(0.840 1)" font-size="11.60" text-anchor="start" fill="#1c1c1c" stroke="#1c1c1c" stroke-width="0.25">179°C</text>
<text transform="translate(488.30 196.20) scale(0.840 1)" font-size="11.60" text-anchor="start" fill="#1c1c1c" stroke="#1c1c1c" stroke-width="0.25">145°C</text>
<text transform="translate(562.40 266.20) scale(0.840 1)" font-size="11.60" text-anchor="start" fill="#1c1c1c" stroke="#1c1c1c" stroke-width="0.25">205°C</text>
<text transform="translate(609.00 115.10)" font-size="11.50" text-anchor="start" fill="#1c1c1c" stroke="#1c1c1c" stroke-width="0.10">[AgOAc-2DDA]</text>
<text transform="translate(437.60 119.00)" font-size="16.00" text-anchor="start" fill="#1c1c1c" stroke="#1c1c1c" stroke-width="0.10">b</text>
<text transform="translate(11.50 187.80) rotate(-90) scale(0.820 1)" font-size="14.50" text-anchor="middle" fill="#1c1c1c" stroke="#1c1c1c" stroke-width="0.15">Weight (%)</text>
<text transform="translate(178.30 328.60) scale(0.820 1)" font-size="14.50" text-anchor="middle" fill="#1c1c1c" stroke="#1c1c1c" stroke-width="0.25">Temp. (°C)</text>
<text transform="translate(351.30 189.90) rotate(-90) scale(0.837 1)" font-size="14.50" text-anchor="middle" fill="#8a8a8a" stroke="#8a8a8a" stroke-width="0.04">Deriv. Weight Change (% /°C)</text>
<text transform="translate(391.05 187.80) rotate(-90) scale(0.820 1)" font-size="14.50" text-anchor="middle" fill="#1c1c1c" stroke="#1c1c1c" stroke-width="0.15">Weight (%)</text>
<text transform="translate(557.85 328.60) scale(0.820 1)" font-size="14.50" text-anchor="middle" fill="#1c1c1c" stroke="#1c1c1c" stroke-width="0.25">Temp. (°C)</text>
<text transform="translate(730.85 189.90) rotate(-90) scale(0.837 1)" font-size="14.50" text-anchor="middle" fill="#8a8a8a" stroke="#8a8a8a" stroke-width="0.04">Deriv. Weight Change (% /°C)</text>
</svg></body></html>
